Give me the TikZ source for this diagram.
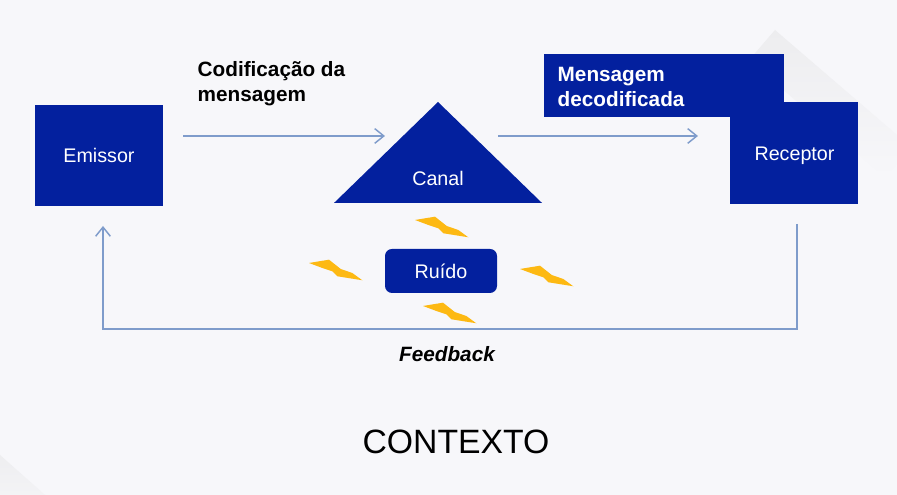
\documentclass[tikz,border=0pt]{standalone}
\usepackage{fontspec}
\setmainfont{Liberation Sans}
\usepackage{xcolor}
\usetikzlibrary{positioning,calc,arrows.meta}
\definecolor{boxblue}{HTML}{03209E}
\definecolor{flowblue}{HTML}{7F9CCB}
\definecolor{boltyellow}{HTML}{FDB913}
\definecolor{pagebg}{HTML}{F7F7FA}
\definecolor{foldgray}{HTML}{EDEDEF}
\tikzset{
  blockbox/.style={fill=boxblue, text=white, font=\fontsize{5.6}{7}\selectfont, inner sep=0pt, align=center},
  flow/.style={draw=flowblue, line width=0.42pt},
  note/.style={font=\fontsize{5.9}{7.1}\selectfont\bfseries, align=left, inner sep=0pt},
  foldband/.style={top color=foldgray, bottom color=pagebg},
  bolt/.pic={\fill[boltyellow] (0,0) -- (0.20,0.033) -- (0.317,-0.06) -- (0.433,-0.10) -- (0.533,-0.173) -- (0.283,-0.133) -- (0.233,-0.083) -- (0.133,-0.05) -- cycle;}
}

\begin{document}
\begin{tikzpicture}[>={Straight Barb[length=2.6pt,width=4.2pt]}]
  \useasboundingbox (0, 0) rectangle (8.97, 4.95);
  \fill[pagebg] (0, 0) rectangle (8.97, 4.95);
  % Folded page corners
  \shade[foldband, shift={(7.75, 4.65)}, rotate=-40.7] (0, 0) rectangle (1.8, -0.4);
  \shade[foldband, shift={(0, 0.40)}, rotate=-41.6] (-0.1, 0) rectangle (0.65, -0.35);

  % Blocks
  \node[blockbox, minimum width=1.28cm, minimum height=1.01cm] (emissor) at (0.99, 3.395) {Emissor};
  \node[blockbox, minimum width=2.40cm, minimum height=0.63cm] (mensagem) at (6.64, 4.095) {};
  \node[blockbox, minimum width=1.28cm, minimum height=1.02cm] (receptor) at (7.94, 3.42) {};
  \node[text=white, font=\fontsize{5.6}{7}\selectfont, inner sep=0pt] (receptorlabel) at (7.945, 3.39) {Receptor};
  \node[note, text=white, anchor=north west] (mensagemlabel) at (5.57, 4.28) {Mensagem\\decodificada};

  % Canal
  \fill[boxblue] (3.34, 2.92) -- (4.38, 3.93) -- (5.42, 2.92) -- cycle;
  \node[text=white, font=\fontsize{5.6}{7}\selectfont, inner sep=0pt] (canal) at (4.38, 3.17) {Canal};

  % Ruido and its bolts
  \node[blockbox, rounded corners=0.07cm, minimum width=1.12cm, minimum height=0.44cm] (ruido) at (4.41, 2.24) {Ruído};
  \pic at (4.15, 2.75) {bolt};
  \pic at (3.09, 2.32) {bolt};
  \pic at (5.20, 2.26) {bolt};
  \pic at (4.23, 1.89) {bolt};

  % Labels
  \node[note, anchor=north west] (codificacao) at (1.97, 4.34) {Codificação da\\mensagem};
  \node[font=\fontsize{5.9}{7}\selectfont\bfseries\itshape, inner sep=0pt] (feedback) at (4.47, 1.41) {Feedback};
  \node[font=\fontsize{9.6}{11}\selectfont, inner sep=0pt] (contexto) at (4.56, 0.53) {CONTEXTO};

  % Connectors
  \coordinate (emissorout) at (1.83, 3.59);
  \coordinate (canalin) at (3.85, 3.59);
  \coordinate (canalout) at (4.98, 3.59);
  \coordinate (receptorin) at (6.98, 3.59);
  \coordinate (receptorout) at (7.97, 2.71);
  \coordinate (emissorin) at (1.03, 2.69);
  \coordinate (feedbackcorner) at (7.97, 1.66);
  \draw[flow, ->] (emissorout) -- (canalin);
  \draw[flow, ->] (canalout) -- (receptorin);
  \draw[flow, ->] (receptorout) -- (feedbackcorner) -| (emissorin);
\end{tikzpicture}
\end{document}
